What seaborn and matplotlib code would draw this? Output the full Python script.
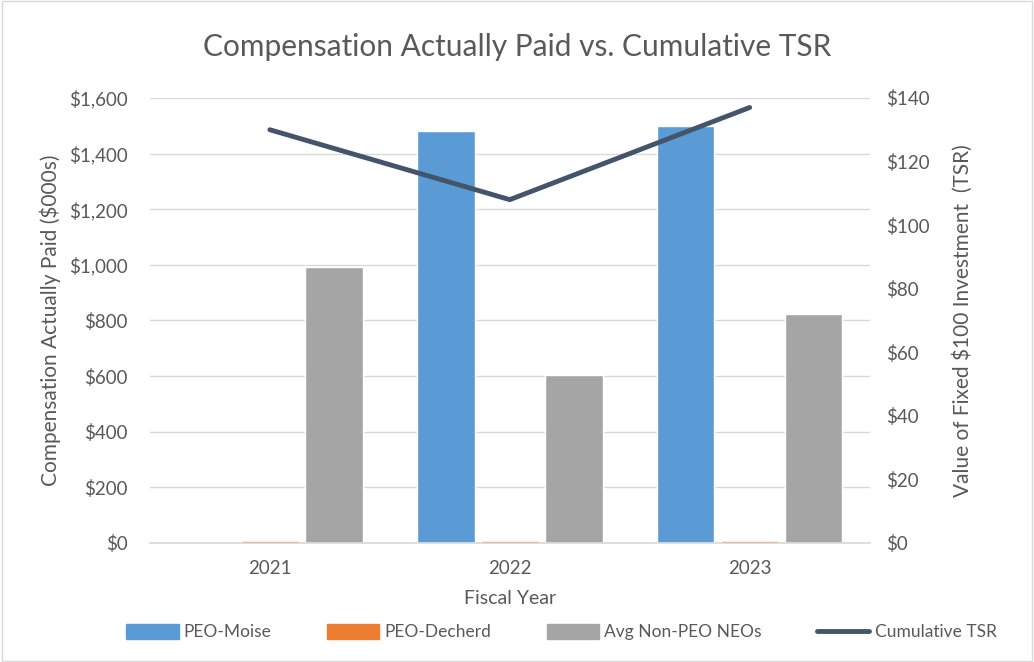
import pandas as pd
import matplotlib.pyplot as plt
import seaborn as sns
from matplotlib.patches import Patch, Rectangle
from matplotlib.lines import Line2D
from matplotlib.ticker import FuncFormatter

# chart data
years = ['2021', '2022', '2023']
series = ['PEO-Moise', 'PEO-Decherd', 'Avg Non-PEO NEOs']
peo_moise = [0, 1480, 1500]
peo_decherd = [7, 7, 7]
avg_non_peo = [993, 604, 824]
cumulative_tsr = [130, 108, 137]

colors = ['#5B9BD5', '#ED7D31', '#A5A5A5']
line_color = '#44546A'
text_color = '#595959'

df = pd.DataFrame({
    'Year': years * 3,
    'Series': [s for s in series for _ in years],
    'Value': peo_moise + peo_decherd + avg_non_peo,
})

sns.set_theme(style='white')
plt.rcParams['font.family'] = ['Lato', 'DejaVu Sans']

fig = plt.figure(figsize=(10.34, 6.62), dpi=100)
ax = fig.add_axes([0.145, 0.18, 0.696, 0.672])

sns.barplot(data=df, x='Year', y='Value', hue='Series', hue_order=series,
            palette=colors, width=0.8, gap=0.1, saturation=1, ax=ax,
            legend=False)
# the tiny Decherd bars show as a faint orange line
for bar in ax.patches[3:6]:
    bar.set_alpha(0.6)
    bar.set_zorder(3)

ax.set_xlim(-0.5, 2.5)
ax.set_ylim(0, 1600)
ax.set_yticks(range(0, 1601, 200))
ax.yaxis.set_major_formatter(FuncFormatter(lambda v, p: f'\\${v:,.0f}'))
ax.grid(axis='y', color='#D9D9D9', linewidth=1)
ax.set_axisbelow(True)
for s in ['top', 'left', 'right']:
    ax.spines[s].set_visible(False)
ax.spines['bottom'].set_color('#D9D9D9')
ax.tick_params(axis='y', length=0, labelsize=13.5, colors=text_color, pad=16)
ax.tick_params(axis='x', length=0, labelsize=13.5, colors=text_color, pad=12)
ax.set_xlabel('Fiscal Year', fontsize=14, color=text_color, labelpad=10)
ax.set_ylabel('Compensation Actually Paid (\\$000s)', fontsize=15,
              color=text_color, labelpad=6)

ax2 = ax.twinx()
sns.lineplot(x=[0, 1, 2], y=cumulative_tsr, color=line_color, linewidth=3.5,
             ax=ax2, solid_capstyle='round')
ax2.set_ylim(0, 140)
ax2.set_yticks(range(0, 141, 20))
ax2.yaxis.set_major_formatter(FuncFormatter(lambda v, p: f'\\${v:,.0f}'))
for s in ['top', 'left', 'right', 'bottom']:
    ax2.spines[s].set_visible(False)
ax2.tick_params(axis='y', length=0, labelsize=13.5, colors=text_color, pad=12)
ax2.set_ylabel('Value of Fixed \\$100 Investment  (TSR)', fontsize=15,
               color=text_color, labelpad=16)

fig.suptitle('Compensation Actually Paid vs. Cumulative TSR', fontsize=21.5,
             color=text_color, y=0.95)

handles = [Patch(facecolor=c, edgecolor=c) for c in colors]
handles.append(Line2D([0], [0], color=line_color, linewidth=3.5))
fig.legend(handles, series + ['Cumulative TSR'], loc='center',
           bbox_to_anchor=(0.543, 0.045), ncol=4, frameon=False,
           fontsize=12.5, labelcolor=text_color, columnspacing=3.2,
           handlelength=3.0, handleheight=0.9, handletextpad=0.3)

fig.patches.append(Rectangle((0.002, 0.002), 0.996, 0.996, transform=fig.transFigure,
                             fill=False, edgecolor='#D9D9D9', linewidth=1))

fig.savefig('out.png', dpi=100)
